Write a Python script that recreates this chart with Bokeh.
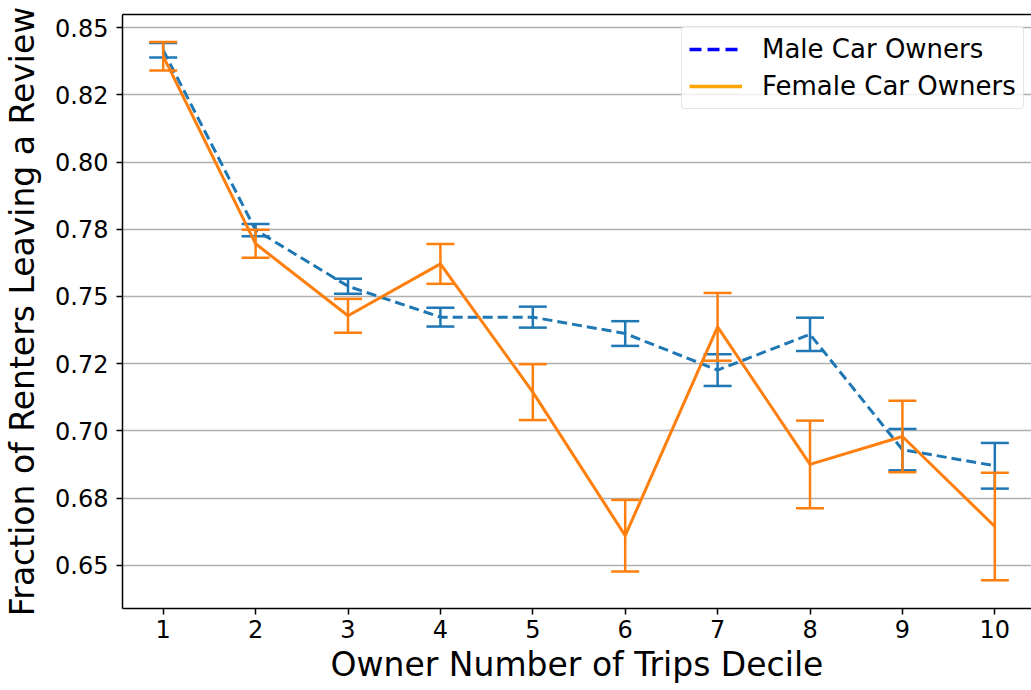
from bokeh.plotting import figure
from bokeh.models import (ColumnDataSource, FixedTicker, Range1d, Legend, LegendItem,
                          LinearAxis)
from bokeh.embed import file_html
from bokeh.resources import INLINE

# ---- data ----
deciles = [1, 2, 3, 4, 5, 6, 7, 8, 9, 10]
male_mean = [0.8416, 0.7747, 0.7538, 0.7423, 0.7423, 0.7362, 0.7226, 0.7359, 0.6930, 0.6870]
male_err = [0.0027, 0.0023, 0.0028, 0.0035, 0.0039, 0.0046, 0.0059, 0.0062, 0.0077, 0.0085]
female_mean = [0.8394, 0.7696, 0.7428, 0.7621, 0.7144, 0.6610, 0.7387, 0.6875, 0.6979, 0.6644]
female_err = [0.0053, 0.0052, 0.0063, 0.0074, 0.0104, 0.0133, 0.0126, 0.0163, 0.0133, 0.0200]

y_tick_values = [0.65, 0.675, 0.70, 0.725, 0.75, 0.775, 0.80, 0.825, 0.85]
y_tick_labels = ["0.65", "0.68", "0.70", "0.72", "0.75", "0.78", "0.80", "0.82", "0.85"]
x_tick_values = deciles

series_names = ["Male Car Owners", "Female Car Owners"]

FONT = "DejaVu Sans"
BLUE = "#1f77b4"
ORANGE = "#ff7f0e"

def make_src(mean, err):
    return ColumnDataSource(dict(
        x=deciles, y=mean,
        lower=[m - e for m, e in zip(mean, err)],
        upper=[m + e for m, e in zip(mean, err)],
    ))

male_src = make_src(male_mean, male_err)
female_src = make_src(female_mean, female_err)

p = figure(width=1031, height=690, output_backend="svg", toolbar_location=None,
           x_range=Range1d(0.5595, 10.397), y_range=Range1d(0.6339, 0.8549),
           min_border_left=122, min_border_right=0, min_border_top=14,
           min_border_bottom=82)
p.outline_line_color = None
p.background_fill_color = "white"
p.border_fill_color = "white"
# a range far from the data: legend-handle lines drawn on it fall outside the frame
p.extra_y_ranges = {"legend_only": Range1d(10, 11)}

# grid
p.xgrid.visible = False
p.ygrid.grid_line_color = "#b0b0b0"
p.ygrid.grid_line_width = 1.5
p.ygrid.ticker = FixedTicker(ticks=y_tick_values)

# axes
for ax in (p.xaxis[0], p.yaxis[0]):
    ax.axis_line_color = "black"
    ax.axis_line_width = 1.5
    ax.major_tick_line_color = "black"
    ax.major_tick_line_width = 1.5
    ax.major_tick_out = 6
    ax.major_tick_in = 0
    ax.minor_tick_line_color = None
    ax.major_label_text_font = FONT
    ax.major_label_text_font_size = "24px"
    ax.major_label_text_color = "black"
    ax.axis_label_text_font = FONT
    ax.axis_label_text_font_size = "33px"
    ax.axis_label_text_font_style = "normal"
    ax.axis_label_text_color = "black"

p.xaxis.ticker = FixedTicker(ticks=x_tick_values)
p.xaxis.axis_label = "Owner Number of Trips Decile"
p.xaxis.major_label_standoff = 5
p.xaxis.axis_label_standoff = 4

p.yaxis.ticker = FixedTicker(ticks=y_tick_values)
p.yaxis.major_label_overrides = {v: s for v, s in zip(y_tick_values, y_tick_labels)}
p.yaxis.axis_label = "Fraction of Renters Leaving a Review"
p.yaxis.major_label_standoff = 8
p.yaxis.axis_label_standoff = 10

# top spine
top = LinearAxis(ticker=FixedTicker(ticks=[]), axis_line_color="black",
                 axis_line_width=1.5, major_label_text_font_size="0px",
                 major_tick_out=0, major_tick_in=0, minor_tick_out=0, minor_tick_in=0)
p.add_layout(top, "above")

# male series
p.line("x", "y", source=male_src, line_color=BLUE, line_width=3, line_dash="10 5")
p.segment(x0="x", y0="lower", x1="x", y1="upper", source=male_src,
          line_color=BLUE, line_width=2.5)
p.scatter("x", "upper", source=male_src, marker="dash", size=28,
          line_color=BLUE, line_width=2.5)
p.scatter("x", "lower", source=male_src, marker="dash", size=28,
          line_color=BLUE, line_width=2.5)

# female series
p.line("x", "y", source=female_src, line_color=ORANGE, line_width=3)
p.segment(x0="x", y0="lower", x1="x", y1="upper", source=female_src,
          line_color=ORANGE, line_width=2.5)
p.scatter("x", "upper", source=female_src, marker="dash", size=28,
          line_color=ORANGE, line_width=2.5)
p.scatter("x", "lower", source=female_src, marker="dash", size=28,
          line_color=ORANGE, line_width=2.5)

# legend handles (styled as in the reference legend), mapped off-frame
leg_male = p.line("x", "y", source=male_src, y_range_name="legend_only",
                  line_color="blue", line_width=3.5, line_dash="12 6")
leg_female = p.line("x", "y", source=female_src, y_range_name="legend_only",
                    line_color="orange", line_width=3.5)

legend = Legend(items=[LegendItem(label=series_names[0], renderers=[leg_male]),
                       LegendItem(label=series_names[1], renderers=[leg_female])],
                location=(559, 499), margin=0,
                label_text_font=FONT, label_text_font_size="26px",
                label_text_color="black",
                glyph_width=53, glyph_height=30, label_height=30,
                label_standoff=20, spacing=7, padding=7,
                border_line_color="#cccccc", border_line_width=1.5,
                background_fill_color="white", background_fill_alpha=0.8)
legend.border_radius = 4
p.add_layout(legend)

open("out.html", "w").write(file_html(p, INLINE))
